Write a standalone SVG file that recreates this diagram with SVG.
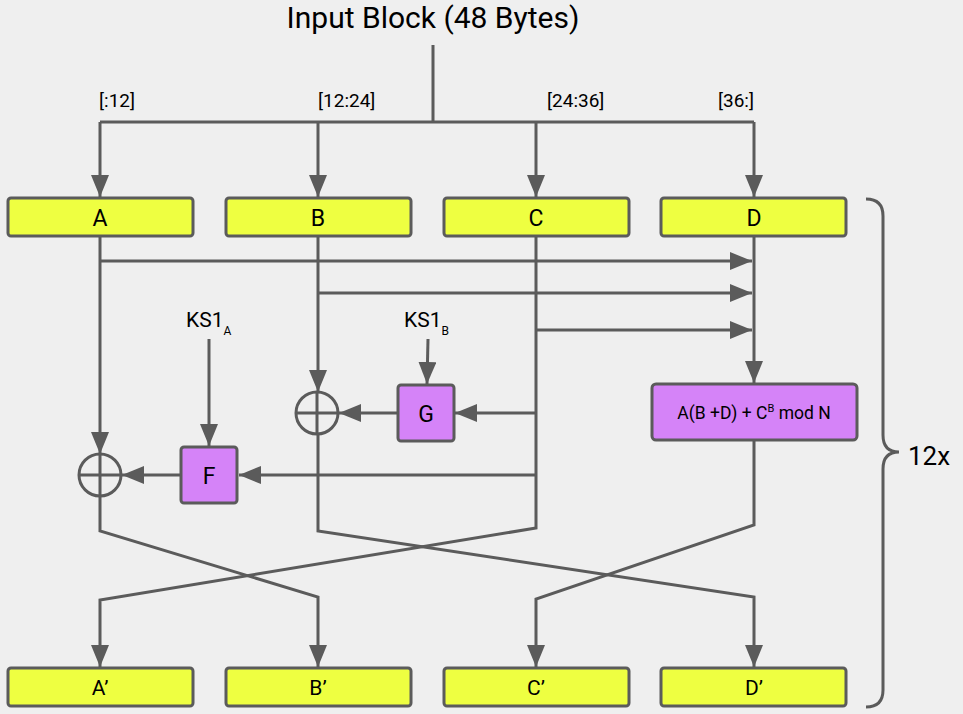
<svg xmlns="http://www.w3.org/2000/svg" width="963" height="714" viewBox="0 0 963 714">
<style>
.bg{fill:#efefef}
.ybox{fill:#eeff41;stroke:#5b5b5b;stroke-width:3}
.pbox{fill:#d583f8;stroke:#5b5b5b;stroke-width:3}
.ln{fill:none;stroke:#5b5b5b;stroke-width:3}
.t{font-family:Roboto,"Open Sans","Liberation Sans",sans-serif;fill:#000}
.lbl{font-size:21px;text-anchor:middle}
.big{font-size:23px;text-anchor:middle}
.sm{font-size:19px}
</style>
<defs>
<marker id="ah" markerUnits="userSpaceOnUse" markerWidth="22" markerHeight="18" refX="22" refY="9" orient="auto">
<path d="M0,0 L22,9 L0,18 z" fill="#5b5b5b"/>
</marker>
</defs>
<rect class="bg" x="0" y="0" width="963" height="714"/>
<text class="t" x="433" y="28" font-size="30" text-anchor="middle">Input Block (48 Bytes)</text>
<text class="t sm" x="99" y="107">[:12]</text>
<text class="t sm" x="318" y="107">[12:24]</text>
<text class="t sm" x="547" y="107">[24:36]</text>
<text class="t sm" x="754" y="107" text-anchor="end">[36:]</text>

<g id="connectors">
<path class="ln" d="M433,45 L433,122 M100,122 L754,122"/>
<path class="ln" d="M100,122 L100,197" marker-end="url(#ah)"/>
<path class="ln" d="M318,122 L318,197" marker-end="url(#ah)"/>
<path class="ln" d="M536,122 L536,197" marker-end="url(#ah)"/>
<path class="ln" d="M754,122 L754,197" marker-end="url(#ah)"/>
<path class="ln" d="M100,237 L100,454" marker-end="url(#ah)"/>
<path class="ln" d="M100,261 L752,261" marker-end="url(#ah)"/>
<path class="ln" d="M318,237 L318,392" marker-end="url(#ah)"/>
<path class="ln" d="M318,293 L752,293" marker-end="url(#ah)"/>
<path class="ln" d="M536,330 L752,330" marker-end="url(#ah)"/>
<path class="ln" d="M536,413 L455,413" marker-end="url(#ah)"/>
<path class="ln" d="M536,475 L239,475" marker-end="url(#ah)"/>
<path class="ln" d="M754,237 L754,383" marker-end="url(#ah)"/>
<path class="ln" d="M181,475 L122,475" marker-end="url(#ah)"/>
<path class="ln" d="M397,413 L339,413" marker-end="url(#ah)"/>
<path class="ln" d="M209,339 L209,446" marker-end="url(#ah)"/>
<path class="ln" d="M428,339 L427,384" marker-end="url(#ah)"/>
<path class="ln" d="M100,496 L100,531 L318,597 L318,667" marker-end="url(#ah)"/>
<path class="ln" d="M318,434 L318,531 L754,597 L754,667" marker-end="url(#ah)"/>
<path class="ln" d="M536,237 L536,528 L100,600 L100,667" marker-end="url(#ah)"/>
<path class="ln" d="M754,441 L754,525 L536,599 L536,667" marker-end="url(#ah)"/>
</g>

<g id="xorA">
<circle class="ln" cx="100" cy="475" r="21"/>
<path class="ln" d="M79,475 L121,475 M100,454 L100,496"/>
</g>
<g id="xorB">
<circle class="ln" cx="317" cy="413" r="21"/>
<path class="ln" d="M296,413 L338,413 M317,392 L317,434"/>
</g>

<g id="A"><rect class="ybox" x="8" y="198" width="185" height="38" rx="3"/><text class="t big" x="100" y="226">A</text></g>
<g id="B"><rect class="ybox" x="226" y="198" width="185" height="38" rx="3"/><text class="t big" x="318" y="226">B</text></g>
<g id="C"><rect class="ybox" x="444" y="198" width="185" height="38" rx="3"/><text class="t big" x="536" y="226">C</text></g>
<g id="D"><rect class="ybox" x="661" y="198" width="185" height="38" rx="3"/><text class="t big" x="754" y="226">D</text></g>

<g id="KS1A"><text class="t" x="186" y="327" font-size="21">KS1<tspan font-size="12" dy="8">A</tspan></text></g>
<g id="KS1B"><text class="t" x="404" y="327" font-size="21">KS1<tspan font-size="12" dy="8">B</tspan></text></g>

<g id="F"><rect class="pbox" x="181" y="447" width="56" height="56" rx="3"/><text class="t big" x="209" y="484">F</text></g>
<g id="G"><rect class="pbox" x="398" y="385" width="56" height="56" rx="3"/><text class="t big" x="426" y="422">G</text></g>
<g id="op"><rect class="pbox" x="652" y="384" width="205" height="56" rx="4"/><text class="t" x="754" y="419" font-size="17.5" text-anchor="middle">A(B +D) + C<tspan font-size="11" dy="-7">B</tspan><tspan dy="7"> mod N</tspan></text></g>

<g id="A2"><rect class="ybox" x="8" y="668" width="185" height="38" rx="3"/><text class="t lbl" x="100" y="695">A’</text></g>
<g id="B2"><rect class="ybox" x="226" y="668" width="185" height="38" rx="3"/><text class="t lbl" x="318" y="695">B’</text></g>
<g id="C2"><rect class="ybox" x="444" y="668" width="185" height="38" rx="3"/><text class="t lbl" x="536" y="695">C’</text></g>
<g id="D2"><rect class="ybox" x="661" y="668" width="185" height="38" rx="3"/><text class="t lbl" x="754" y="695">D’</text></g>

<g id="brace">
<path class="ln" d="M866,199 Q883,199 883,216 L883,435 Q883,452 899,452 Q883,452 883,469 L883,690 Q883,707 866,707"/>
<text class="t" x="908" y="465" font-size="26">12x</text>
</g>
</svg>
